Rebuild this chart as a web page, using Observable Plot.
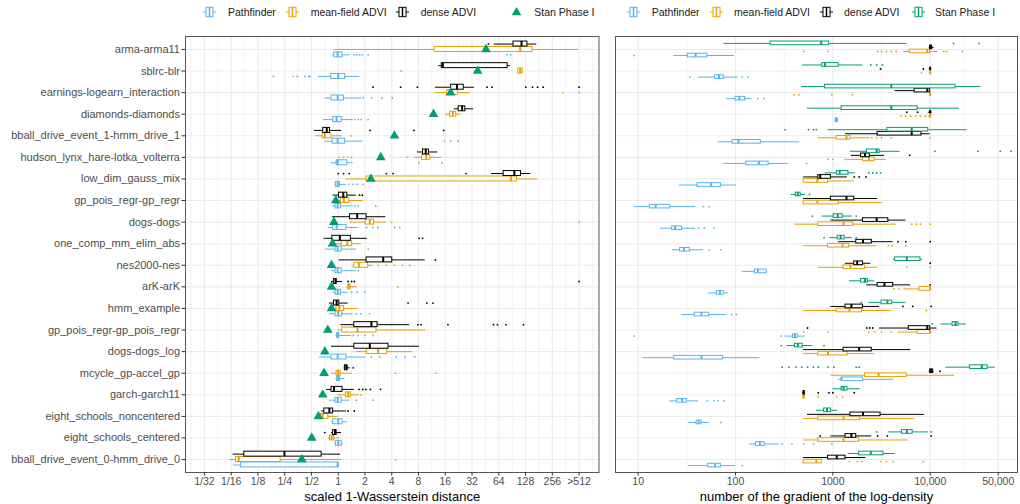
<!DOCTYPE html>
<html><head><meta charset="utf-8">
<script src="https://cdn.jsdelivr.net/npm/d3@7"></script>
<script src="https://cdn.jsdelivr.net/npm/@observablehq/plot@0.6"></script>
<style>
body{margin:0;background:#fff;font-family:"Liberation Sans",Arial,sans-serif;}
#wrap{position:relative;width:1020px;height:504px;overflow:hidden;}
#legend{position:absolute;left:0;top:0;}
#left{position:absolute;left:0;top:26px;}
#right{position:absolute;left:605px;top:26px;}
</style></head><body>
<div id="wrap"><svg id="legend" width="1020" height="26"></svg><div id="left"></div><div id="right"></div></div>
<script>
const models = ["arma-arma11","sblrc-blr","earnings-logearn_interaction","diamonds-diamonds","bball_drive_event_1-hmm_drive_1","hudson_lynx_hare-lotka_volterra","low_dim_gauss_mix","gp_pois_regr-gp_regr","dogs-dogs","one_comp_mm_elim_abs","nes2000-nes","arK-arK","hmm_example","gp_pois_regr-gp_pois_regr","dogs-dogs_log","mcycle_gp-accel_gp","garch-garch11","eight_schools_noncentered","eight_schools_centered","bball_drive_event_0-hmm_drive_0"];
const methods = ["Pathfinder","mean-field ADVI","dense ADVI","Stan Phase I"];
const colors = ["#56B4E9","#E69F00","#000000","#009E73"];

// Left panel: log2 of scaled 1-Wasserstein distance, per model [whiskerLo, q1, median, q3, whiskerHi]
const pathfinderW1 = [[-0.22,-0.15,-0.02,0.16,0.44],[-0.74,-0.26,0,0.26,0.81],[-0.48,-0.25,-0.02,0.21,0.87],[-0.56,-0.19,-0.06,0.13,0.56],[-0.5,-0.21,-0.02,0.26,0.93],[-0.27,-0.06,-0.02,0.34,0.56],[-0.12,-0.09,-0.02,0.06,0.3],[-0.21,-0.1,-0.02,0.1,0.56],[-0.37,-0.19,-0.06,0.31,0.74],[-0.46,-0.1,-0.02,0.13,0.68],[-0.25,-0.1,-0.02,0.13,0.68],[-0.19,-0.1,-0.02,0.1,0.37],[-0.33,-0.1,0,0.15,0.56],[-0.09,-0.04,0,0.03,0.5],[-0.71,-0.25,-0.02,0.31,1.03],[-0.09,-0.04,0,0.06,0.25],[-0.33,-0.1,-0.02,0.13,0.44],[-0.25,-0.19,0,0.16,0.34],[-0.12,-0.09,0,0.13,0.19],[-3.91,-3.63,-0.02,0,0]];
const meanfieldW1 = [[-0.16,3.6,6.8,7.26,8.97],[6.7,6.73,6.8,6.89,6.92],[3.63,4.07,4.22,4.47,4.94],[4.01,4.18,4.28,4.41,4.59],[-0.83,-0.58,-0.5,-0.25,0.16],[2.86,3.13,3.29,3.44,3.87],[0.31,1.06,6.46,6.68,7.45],[-0.09,0.1,0.21,0.41,0.93],[0.55,1.03,1.18,1.34,1.8],[-0.06,0.13,0.34,0.52,0.87],[0.54,0.6,0.77,1.12,1.3],[0.31,0.37,0.41,0.46,0.72],[-0.12,-0.06,0.04,0.22,0.74],[0,0.15,0.72,1.43,3.27],[0.68,1.08,1.49,1.82,2.77],[-0.25,-0.06,0,0.09,0.52],[0,0.29,0.37,0.47,0.78],[-0.68,-0.64,-0.58,-0.37,0],[-0.37,-0.31,-0.25,-0.16,0.06],[-4.03,-3.82,-3.72,-2.15,0.13]];
const denseW1 = [[5.83,6.55,6.85,7.07,7.42],[3.76,3.87,3.91,6.33,6.43],[3.63,4.22,4.44,4.69,5.09],[4.34,4.5,4.63,4.75,5.06],[-0.89,-0.56,-0.43,-0.31,0.13],[2.96,3.17,3.27,3.39,3.72],[5.73,6.18,6.58,6.83,7.2],[-0.19,0.03,0.19,0.34,0.68],[-0.22,0.44,0.71,1.06,1.78],[-0.53,-0.22,0.06,0.47,1.09],[0.04,1.06,1.68,2.02,3.25],[-0.25,-0.16,-0.1,-0.06,0.16],[-0.33,-0.16,-0.06,0.04,0.37],[0.1,0.6,1.24,1.47,2.67],[-0.25,0.6,1.18,1.88,3.04],[0.22,0.25,0.3,0.35,0.45],[-0.43,-0.25,-0.16,0.16,0.6],[-0.62,-0.52,-0.33,-0.19,0.31],[-0.25,-0.19,-0.12,-0.06,0.12],[-3.93,-3.51,-2.01,-0.62,0.09]];
const stanW1 = [5.52,5.21,4.2,3.56,2.1,1.59,1.22,-0.09,-0.16,-0.21,-0.25,-0.25,-0.25,-0.39,-0.5,-0.53,-0.58,-0.74,-0.99,-1.36];
// outliers: [model index, log2 value]
const pathfinderW1Out = [[0,0.6],[0,0.7],[0,0.8],[0,0.9],[0,1.12],[0,6.3],[0,6.45],[1,-2.42],[1,-1.68],[1,-1.53],[1,-1.24],[1,-1.1],[1,-1.05],[2,0.93],[2,1.25],[2,1.63],[2,2.02],[3,0.62],[3,0.75],[3,0.85],[3,1.12],[4,3.97],[4,4.2],[4,4.47],[5,3.02],[5,3.87],[6,0.4],[6,0.55],[6,0.7],[6,0.93],[7,0.62],[7,0.74],[7,1.4],[8,1.06],[8,1.29],[8,1.48],[8,2.11],[8,2.3],[9,1.12],[10,0.75],[11,0.5],[11,0.7],[11,1.0],[12,0.68],[12,0.85],[12,1.17],[13,0.56],[13,0.75],[13,1.0],[13,1.3],[14,1.24],[14,1.55],[14,2.17],[14,2.5],[14,2.86],[16,0.68],[16,1.3]];
const meanfieldW1Out = [[1,2.35],[2,8.4],[2,9.0],[4,0.47],[5,0.02],[5,0.2],[5,0.35],[5,0.5],[5,2.57],[8,0.47],[8,2.0],[8,9.0],[10,1.5],[10,1.8],[10,2.1],[10,2.4],[10,2.67],[11,2.23],[15,2.14],[15,3.66],[16,0.85],[19,2.14]];
const denseW1Out = [[0,5.61],[2,1.3],[2,2.33],[2,2.96],[2,5.56],[2,5.75],[2,7.01],[2,7.26],[2,7.45],[2,7.66],[2,9.0],[4,1.19],[4,2.83],[4,3.94],[6,0],[6,0.2],[6,0.41],[6,1.8],[6,2.05],[6,4.78],[7,0.8],[7,0.9],[9,3.02],[9,3.15],[10,3.63],[11,0.37],[11,0.5],[11,0.6],[11,9.0],[12,2.61],[12,3.31],[12,3.54],[13,2.98],[13,3.1],[13,4.1],[13,5.8],[13,5.95],[13,6.27],[13,6.92],[15,0.56],[16,0.78],[16,0.92],[16,1.03],[16,1.2],[16,1.58],[17,0.37],[17,0.6],[18,-0.5]];
const w1Ticks = [-5,-4,-3,-2,-1,0,1,2,3,4,5,6,7,8,9];
const w1TickLabels = ["1/32","1/16","1/8","1/4","1/2","1","2","4","8","16","32","64","128","256",">512"];
const w1Minor = [-5.5,-4.5,-3.5,-2.5,-1.5,-0.5,0.5,1.5,2.5,3.5,4.5,5.5,6.5,7.5,8.5,9.5];
const w1Title = "scaled 1-Wasserstein distance";

// Right panel: log10 of number of gradient evaluations, [whiskerLo, q1, median, q3, whiskerHi]
const stanGrad = [[1.88,2.36,2.88,2.96,3.76],[2.69,2.89,2.92,3.06,3.31],[2.68,2.92,3.6,4.26,4.52],[2.74,3.09,3.6,3.87,4.3],[2.95,3.56,3.81,3.98,4.38],[3.18,3.35,3.45,3.48,3.69],[2.92,3.04,3.07,3.16,3.23],[2.57,2.62,2.64,2.67,2.72],[2.89,3.01,3.05,3.1,3.2],[2.97,3.05,3.08,3.12,3.2],[3.62,3.64,3.76,3.9,3.92],[3.17,3.29,3.33,3.36,3.43],[3.37,3.5,3.56,3.61,3.75],[4.11,4.23,4.26,4.29,4.37],[2.53,2.61,2.64,2.69,2.79],[4.16,4.41,4.53,4.59,4.67],[3.0,3.09,3.11,3.15,3.28],[2.83,2.91,2.94,2.98,3.05],[3.57,3.71,3.76,3.82,3.98],[3.16,3.27,3.39,3.52,3.64]];
const denseGrad = [[3.99,4.0,4.0,4.02,4.04],[3.99,4.0,4.0,4.0,4.01],[3.64,3.84,3.97,4.0,4.0],[3.98,4.0,4.0,4.0,4.02],[3.13,3.46,3.81,3.91,4.0],[3.19,3.29,3.33,3.38,3.53],[2.7,2.85,2.87,2.98,3.15],[2.7,2.98,3.14,3.22,3.46],[2.98,3.31,3.45,3.57,3.75],[3.06,3.24,3.31,3.4,3.62],[3.13,3.22,3.25,3.31,3.39],[3.35,3.46,3.53,3.62,3.8],[2.98,3.13,3.19,3.31,3.48],[3.48,3.78,3.97,4.0,4.07],[2.7,3.11,3.27,3.4,3.8],[3.99,4.0,4.01,4.03,4.04],[2.69,2.7,2.7,2.71,2.72],[2.74,3.18,3.31,3.49,3.94],[2.98,3.13,3.19,3.24,3.4],[2.7,2.95,3.04,3.13,3.34]];
const meanfieldGrad = [[3.73,3.79,3.97,4.0,4.08],[3.99,4.0,4.0,4.0,4.01],[3.99,4.0,4.0,4.0,4.01],[3.98,4.0,4.0,4.0,4.01],[2.85,3.04,3.14,3.18,3.38],[3.15,3.31,3.37,3.43,3.55],[2.7,2.7,2.84,2.95,3.22],[2.7,2.7,2.84,3.06,3.51],[2.61,2.85,3.11,3.21,3.65],[2.7,2.95,3.1,3.17,3.45],[2.85,3.11,3.18,3.33,3.46],[3.73,3.89,4.0,4.0,4.0],[2.7,3.04,3.17,3.3,3.6],[3.67,3.87,4.0,4.0,4.0],[2.7,2.85,2.95,3.15,3.43],[2.98,3.33,3.47,3.76,4.25],[2.69,2.7,2.7,2.71,2.72],[2.7,2.85,3.11,3.28,3.84],[2.7,2.85,3.11,3.27,3.77],[2.7,2.7,2.83,2.89,2.89]];
const pathfinderGrad = [[1.37,1.51,1.59,1.71,1.99],[1.62,1.79,1.83,1.88,2.03],[1.91,2.0,2.04,2.1,2.17],[3.02,3.03,3.04,3.05,3.06],[1.82,1.97,2.03,2.26,2.66],[1.88,2.11,2.24,2.34,2.54],[1.42,1.61,1.75,1.85,2.01],[0.96,1.12,1.18,1.33,1.59],[1.23,1.35,1.38,1.45,1.59],[1.35,1.43,1.47,1.53,1.67],[2.07,2.2,2.23,2.32,2.33],[1.72,1.81,1.84,1.88,1.93],[1.45,1.58,1.65,1.73,1.91],[2.51,2.59,2.61,2.64,2.71],[1.05,1.37,1.65,1.87,2.25],[3.06,3.09,3.09,3.31,3.63],[1.32,1.4,1.45,1.5,1.62],[1.52,1.6,1.62,1.65,1.73],[2.14,2.21,2.25,2.3,2.45],[1.52,1.72,1.79,1.85,2.0]];
const stanGradOut = [[0,4.24],[0,4.5],[1,3.39],[1,3.45],[1,3.51],[4,2.51],[4,2.75],[4,2.8],[4,2.83],[5,4.05],[5,4.49],[5,4.72],[5,4.83],[6,3.37],[6,3.41],[6,3.45],[6,3.49],[7,2.76],[8,2.79],[8,3.24],[9,2.91],[9,3.24],[12,3.29],[13,4.02],[14,2.47],[14,2.91],[15,2.48],[15,2.55],[15,2.62],[15,2.68],[15,2.74],[15,2.8],[15,2.85],[15,2.95],[15,3.01],[15,3.24],[15,3.27],[18,3.45],[18,4.01]];
const denseGradOut = [[1,3.49],[1,3.93],[3,3.76],[3,3.87],[5,3.79],[6,3.22],[6,3.27],[6,3.34],[9,3.67],[9,3.75],[9,4.0],[10,4.0],[11,4.0],[12,3.72],[12,3.82],[12,4.01],[13,2.74],[13,3.35],[13,3.38],[13,3.41],[15,4.1],[16,2.85],[16,2.96],[16,3.0],[16,3.22],[18,2.87],[18,3.46],[18,3.56],[18,4.01]];
const meanfieldGradOut = [[0,2.7],[0,2.95],[0,3.46],[0,3.5],[0,3.55],[0,3.6],[0,3.65],[0,4.14],[0,4.17],[0,4.33],[1,3.91],[2,2.6],[2,2.65],[2,2.99],[2,3.2],[3,3.7],[3,3.75],[3,3.8],[3,3.85],[3,3.9],[3,3.95],[4,3.4],[4,3.45],[4,3.5],[4,3.6],[4,4.0],[5,2.95],[5,3.0],[5,3.13],[8,3.81],[8,3.86],[8,3.9],[8,4.0],[9,3.57],[9,3.61],[9,3.75],[10,3.76],[10,4.0],[11,3.63],[11,3.68],[12,3.96],[13,2.7],[13,2.95],[13,3.37],[13,3.43],[13,3.5],[13,3.6],[16,2.85],[16,3.04],[16,3.1],[19,3.17],[19,3.25],[19,3.3],[19,3.49],[19,3.55],[19,3.62],[19,3.93]];
const pathfinderGradOut = [[0,0.96],[1,1.53],[1,2.07],[1,2.13],[2,2.23],[2,2.29],[5,2.73],[7,1.67],[7,1.73],[8,1.62],[8,1.68],[8,1.78],[9,1.73],[9,1.85],[12,1.96],[12,2.01],[13,0.96],[13,2.47],[16,1.71],[16,1.78],[16,1.82],[16,1.88],[17,1.85],[18,2.48],[18,2.58],[18,2.7],[18,2.8],[18,2.99],[19,2.07]];
const gradTicks = [1,2,3,4,4.699];
const gradTickLabels = ["10","100","1000","10,000","50,000"];
const gradMinor = [1.5,2.5,3.5,4.3495];
const gradTitle = "number of the gradient of the log-density";

const rowIdx = d3.range(models.length);
const FONT = "'Liberation Sans', Arial, sans-serif";
const GRID = "#ebebeb";
const BORDER = "#555";

function boxTable(stats, off) {
  return stats.map((s, i) => ({row: i, y: i + off, lo: s[0], q1: s[1], med: s[2], q3: s[3], hi: s[4]}));
}
function outTable(pts, off) { return pts.map(([r, v]) => ({y: r + off, v})); }
function boxMarks(stats, outs, off, color, half) {
  const t = boxTable(stats, off);
  return [
    Plot.ruleY(t, {y: "y", x1: "lo", x2: "hi", stroke: color, strokeWidth: 1}),
    Plot.rect(t, {x1: "q1", x2: "q3", y1: d => d.y - half, y2: d => d.y + half, fill: "white", stroke: color, strokeWidth: 1}),
    Plot.ruleX(t, {x: "med", y1: d => d.y - half, y2: d => d.y + half, stroke: color, strokeWidth: 2}),
    Plot.dot(outTable(outs, off), {x: "v", y: "y", r: 0.9, fill: color, stroke: "none"})
  ];
}

const common = {
  height: 478, marginTop: 10, marginBottom: 32,
  style: {fontFamily: FONT, fontSize: "10.5px", color: "#4d4d4d", background: "white", overflow: "visible"}
};
const yDomain = [-0.6, models.length - 0.4];

const left = Plot.plot({
  ...common,
  width: 605, marginLeft: 185, marginRight: 6.5,
  x: {domain: [-5.707, 9.745], label: null},
  y: {domain: yDomain, reverse: true, label: null},
  marks: [
    Plot.ruleX(w1Minor, {stroke: GRID, strokeWidth: 0.6}),
    Plot.ruleX(w1Ticks, {stroke: GRID, strokeWidth: 1.1}),
    Plot.ruleY(rowIdx, {stroke: GRID, strokeWidth: 1.1}),
    ...boxMarks(pathfinderW1, pathfinderW1Out, 0.25, colors[0], 0.115),
    ...boxMarks(meanfieldW1, meanfieldW1Out, 0, colors[1], 0.115),
    ...boxMarks(denseW1, denseW1Out, -0.25, colors[2], 0.115),
    Plot.dot(stanW1, {x: d => d, y: (d, i) => i, symbol: "triangle", r: 3.6, fill: colors[3], stroke: "none"}),
    Plot.frame({stroke: BORDER, strokeWidth: 1}),
    Plot.axisY({ticks: rowIdx, tickFormat: i => models[i], tickSize: 3.5, tickPadding: 2, label: null, stroke: "#333", fontSize: 11}),
    Plot.axisX({ticks: w1Ticks, tickFormat: d => w1TickLabels[w1Ticks.indexOf(d)], tickSize: 3.5, tickPadding: 2, label: null, stroke: "#333"}),
    Plot.text([w1Title], {text: d => d, frameAnchor: "bottom", dy: 24.5, fill: "black", fontSize: 13, lineAnchor: "middle"})
  ]
});
document.getElementById("left").appendChild(left);

const right = Plot.plot({
  ...common,
  width: 415, marginLeft: 10, marginRight: 3,
  x: {domain: [0.767, 4.897], label: null},
  y: {domain: yDomain, reverse: true, label: null, axis: null},
  marks: [
    Plot.ruleX(gradMinor, {stroke: GRID, strokeWidth: 0.6}),
    Plot.ruleX(gradTicks, {stroke: GRID, strokeWidth: 1.1}),
    Plot.ruleY(rowIdx, {stroke: GRID, strokeWidth: 1.1}),
    ...boxMarks(pathfinderGrad, pathfinderGradOut, 0.28125, colors[0], 0.085),
    ...boxMarks(meanfieldGrad, meanfieldGradOut, 0.09375, colors[1], 0.085),
    ...boxMarks(denseGrad, denseGradOut, -0.09375, colors[2], 0.085),
    ...boxMarks(stanGrad, stanGradOut, -0.28125, colors[3], 0.085),
    Plot.frame({stroke: BORDER, strokeWidth: 1}),
    Plot.axisX({ticks: gradTicks, tickFormat: d => gradTickLabels[gradTicks.indexOf(d)], tickSize: 3.5, tickPadding: 2, label: null, stroke: "#333"}),
    Plot.text([gradTitle], {text: d => d, frameAnchor: "bottom", dy: 24.5, fill: "black", fontSize: 13, lineAnchor: "middle"})
  ]
});
document.getElementById("right").appendChild(right);

// Legends
const legendLeft = [{gx: 203, tx: 228, m: 0}, {gx: 286, tx: 310.7, m: 1}, {gx: 396, tx: 420.7, m: 2}, {gx: 510, tx: 534.3, m: 3, tri: true}];
const legendRight = [{gx: 627, tx: 651.7, m: 0}, {gx: 710, tx: 734, m: 1}, {gx: 820, tx: 844, m: 2}, {gx: 912, tx: 935, m: 3}];
const lg = d3.select("#legend").style("font-family", FONT);
for (const it of [...legendLeft, ...legendRight]) {
  const c = colors[it.m];
  const g = lg.append("g");
  if (it.tri) {
    g.append("path").attr("d", d3.symbol(d3.symbolTriangle, 40)()).attr("transform", `translate(${it.gx + 6.5},12.5)`).attr("fill", c);
  } else {
    g.append("line").attr("x1", it.gx).attr("x2", it.gx + 13).attr("y1", 12).attr("y2", 12).attr("stroke", c);
    g.append("rect").attr("x", it.gx + 3).attr("y", 7.3).attr("width", 7).attr("height", 9.4).attr("fill", "white").attr("stroke", c);
    g.append("line").attr("x1", it.gx + 6.5).attr("x2", it.gx + 6.5).attr("y1", 7.3).attr("y2", 16.7).attr("stroke", c).attr("stroke-width", 1.5);
  }
  g.append("text").attr("x", it.tx).attr("y", 12).attr("dy", "0.35em").attr("font-size", 10.5).attr("fill", "#1a1a1a").text(methods[it.m]);
}
</script>
</body></html>
